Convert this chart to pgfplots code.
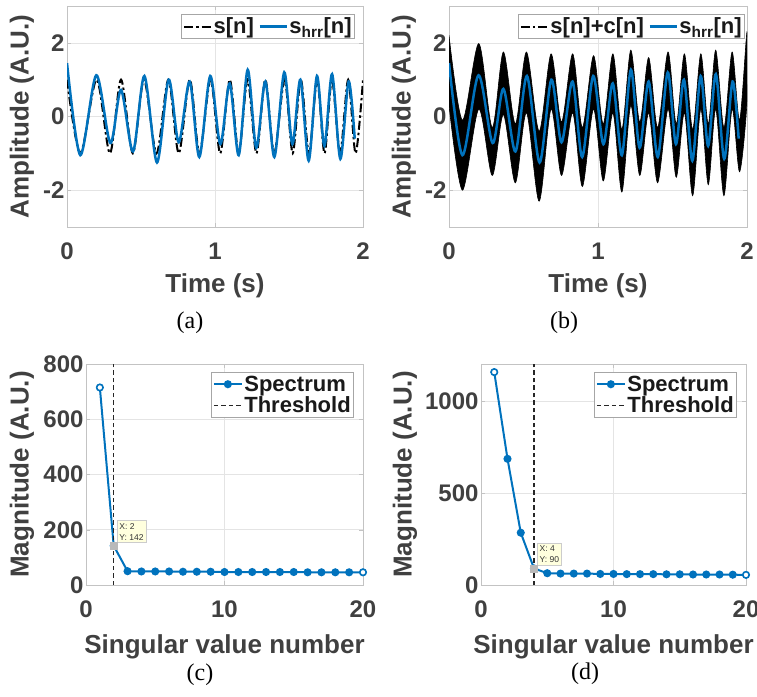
\documentclass[border=0pt]{standalone}
\usepackage{pgfplots}
\pgfplotsset{compat=1.18}
\usepackage{fontspec}
\setmainfont{Liberation Sans}
\newfontfamily\capfont{Liberation Serif}
\definecolor{mblue}{RGB}{0,114,189}
\definecolor{tickgray}{RGB}{64,64,64}
\definecolor{gridgray}{RGB}{228,228,228}
\definecolor{boxgray}{RGB}{195,195,195}
\definecolor{tipfill}{RGB}{255,255,222}
\pgfplotsset{
  myaxis/.style={
    scale only axis,
    axis line style={boxgray, line width=0.8pt},
    grid=major,
    major grid style={gridgray, line width=0.6pt},
    tick style={boxgray},
    major tick length=4pt,
    tick align=inside,
    tick label style={font=\fontsize{24}{26}\selectfont\bfseries, text=tickgray},
    label style={font=\fontsize{26}{28}\selectfont\bfseries, text=tickgray},
    /pgf/number format/assume math mode=true,
    /pgf/number format/1000 sep={},
    scaled ticks=false,
    xticklabel style={yshift=-12pt},
    yticklabel style={xshift=1pt},
    legend style={font=\fontsize{22}{24}\selectfont\bfseries, draw=gray!70, fill=white, inner sep=1.5pt, text=black!90, line width=0.6pt,
      nodes={inner xsep=1.5pt}},
    legend cell align=left,
  },
  timeaxis/.style={
    myaxis, xmin=0, xmax=2, ymin=-3, ymax=3, xtick={0,1,2}, ytick={-2,0,2}, yticklabels={-2,0,2},
    xlabel={Time (s)}, ylabel={Amplitude (A.U.)},
    xlabel style={at={(axis description cs:0.5,-0.267)}, anchor=center},
    ylabel style={at={(axis description cs:-0.152,0.5)}, anchor=center},
    legend columns=-1,
    legend style={/tikz/every even column/.append style={column sep=3pt}},
    legend image code/.code={\draw[##1] (0pt,0pt) -- (27pt,0pt);},
  },
  svaxis/.style={
    myaxis, xmin=0, xmax=20, ymin=0, xtick={0,10,20},
    xlabel={Singular value number}, ylabel={Magnitude (A.U.)},
    xlabel style={at={(axis description cs:0.5,-0.281)}, anchor=center},
    legend image code/.code={\draw[mark repeat=2,mark phase=2,##1] plot coordinates {(0pt,0pt)(14pt,0pt)(28pt,0pt)};},
  },
}
\begin{document}
\begin{tikzpicture}
\useasboundingbox (0,0) rectangle (757pt,696pt);
% ---------- (a)
\begin{axis}[timeaxis, width=296pt, height=221pt, at={(67pt,469pt)}, anchor=south west,
  legend style={at={(1,1)}, anchor=north east, xshift=-8pt, yshift=-8pt}]
\addplot[black, line width=2pt, smooth, dash pattern=on 9pt off 3pt on 2.5pt off 3pt] coordinates {
(0,1.0) (0.09,-1.0) (0.2,1.0) (0.29,-1.0) (0.365,1.0) (0.445,-1.0) (0.52,1.0) (0.605,-1.0) (0.685,1.0) (0.755,-1.0) (0.83,1.0) (0.895,-1.0) (0.97,1.0) (1.035,-1.0) (1.10,1.0) (1.16,-1.0) (1.22,1.0) (1.28,-1.0) (1.34,1.0) (1.40,-1.0) (1.47,1.0) (1.525,-1.0) (1.58,1.0) (1.635,-1.0) (1.69,1.0) (1.74,-1.0) (1.79,1.0) (1.845,-1.0) (1.90,1.0) (1.95,-1.0) (2.0,1.0)};
\addlegendentry{s[n]}
\addplot[mblue, line width=2.5pt, smooth] coordinates {
(0,1.45) (0.09,-1.05) (0.198,1.12) (0.293,-0.72) (0.365,0.72) (0.446,-0.95) (0.523,1.1) (0.608,-1.25) (0.687,1.0) (0.755,-0.7) (0.829,0.95) (0.894,-1.1) (0.968,1.1) (1.036,-0.75) (1.099,0.9) (1.160,-1.05) (1.221,1.27) (1.279,-0.85) (1.340,0.95) (1.401,-1.1) (1.468,1.2) (1.523,-0.75) (1.577,1.0) (1.633,-1.2) (1.689,1.1) (1.739,-0.8) (1.791,1.15) (1.847,-1.15) (1.903,0.95) (1.944,-0.6)};
\addlegendentry{s\textsubscript{hrr}[n]}
\end{axis}
% ---------- (b)
\begin{axis}[timeaxis, width=298pt, height=221pt, at={(449pt,469pt)}, anchor=south west,
  ylabel style={at={(axis description cs:-0.151,0.5)}},
  legend style={at={(1,1)}, anchor=north east, xshift=-2pt, yshift=-8pt}]
\addplot[draw=black, fill=black, line width=0.6pt, smooth, forget plot] coordinates {
(0,2.2) (0.09,-0.1) (0.2,1.98) (0.29,-0.3) (0.365,1.75) (0.445,-0.2) (0.52,1.75) (0.605,-0.4) (0.685,1.7) (0.755,-0.15) (0.83,1.7) (0.895,-0.3) (0.97,1.65) (1.035,-0.2) (1.10,1.7) (1.16,-0.35) (1.22,1.8) (1.28,-0.15) (1.34,1.6) (1.40,-0.3) (1.47,1.75) (1.525,-0.2) (1.58,1.7) (1.635,-0.35) (1.69,1.7) (1.74,-0.2) (1.79,1.8) (1.845,-0.3) (1.90,1.75) (1.95,-0.1) (2.0,2.3)
(2.0,0.4) (1.95,-1.5) (1.90,0.2) (1.845,-2.15) (1.79,0.2) (1.74,-1.85) (1.69,0.2) (1.635,-2.15) (1.58,0.1) (1.525,-1.65) (1.47,0.2) (1.40,-1.8) (1.34,0.1) (1.28,-1.6) (1.22,0.3) (1.16,-2.05) (1.10,0.1) (1.035,-1.75) (0.97,0.2) (0.895,-1.9) (0.83,0.1) (0.755,-1.6) (0.685,0.2) (0.605,-2.3) (0.52,0.1) (0.445,-1.8) (0.365,0.05) (0.29,-1.6) (0.2,0.2) (0.09,-2.0) (0,0.3)};
\addlegendimage{black, line width=2pt, dash pattern=on 9pt off 3pt on 2.5pt off 3pt}
\addlegendentry{s[n]+c[n]}
\addplot[mblue, line width=2.5pt, smooth] coordinates {
(0,1.45) (0.09,-1.05) (0.198,1.12) (0.293,-0.72) (0.365,0.75) (0.446,-0.95) (0.523,1.1) (0.608,-1.25) (0.687,1.0) (0.755,-0.7) (0.829,0.95) (0.894,-1.1) (0.968,1.1) (1.036,-0.75) (1.099,0.9) (1.160,-1.05) (1.221,1.27) (1.279,-0.85) (1.340,0.95) (1.401,-1.1) (1.468,1.2) (1.523,-0.75) (1.577,1.0) (1.633,-1.2) (1.689,1.1) (1.739,-0.8) (1.791,1.15) (1.847,-1.15) (1.903,0.95) (1.944,-0.6)};
\addlegendentry{s\textsubscript{hrr}[n]}
\end{axis}
% ---------- (c)
\begin{axis}[svaxis, width=277pt, height=221pt, at={(86pt,111pt)}, anchor=south west,
  ymax=800, ytick={0,200,400,600,800},
  ylabel style={at={(axis description cs:-0.231,0.5)}, anchor=center},
  legend style={at={(1,1)}, anchor=north east, xshift=-9pt, yshift=-8pt}]
\addplot[mblue, line width=2pt, mark=*, mark size=3pt] coordinates {
(1,715) (2,142) (3,50) (4,49) (5,49) (6,49) (7,48) (8,48) (9,48) (10,47) (11,47) (12,47) (13,47) (14,47) (15,47) (16,46) (17,46) (18,46) (19,46) (20,46)};
\addlegendentry{Spectrum}
\addplot[black!85, line width=1.5pt, dash pattern=on 4.5pt off 3pt] coordinates {(2,0) (2,800)};
\addlegendentry{Threshold}
\addplot[only marks, mblue, mark=*, mark size=3pt, mark options={fill=white, line width=1.2pt}, forget plot] coordinates {(1,715) (20,46)};
\addplot[only marks, mark=square*, mark size=3.5pt, color=gray!55, forget plot] coordinates {(2,142)};
\node[anchor=south west, fill=tipfill, draw=gray!40, font=\fontsize{8.5}{11}\selectfont, text=black!80, align=left, inner sep=2.5pt, xshift=3pt, yshift=3pt] at (axis cs:2,142) {X: 2\\Y: 142};
\end{axis}
% ---------- (d)
\begin{axis}[svaxis, width=265pt, height=221pt, at={(481pt,111pt)}, anchor=south west,
  ymax=1200, ytick={0,500,1000},
  ylabel style={at={(axis description cs:-0.287,0.5)}, anchor=center},
  legend style={at={(1,1)}, anchor=north east, xshift=-9pt, yshift=-8pt}]
\addplot[mblue, line width=2pt, mark=*, mark size=3pt] coordinates {
(1,1156) (2,685) (3,284) (4,90) (5,64) (6,62) (7,62) (8,62) (9,60) (10,60) (11,59) (12,59) (13,59) (14,58) (15,58) (16,57) (17,57) (18,57) (19,56) (20,55)};
\addlegendentry{Spectrum}
\addplot[black!85, line width=1.5pt, dash pattern=on 4.5pt off 3pt] coordinates {(4,0) (4,1200)};
\addlegendentry{Threshold}
\addplot[only marks, mblue, mark=*, mark size=3pt, mark options={fill=white, line width=1.2pt}, forget plot] coordinates {(1,1156) (20,55)};
\addplot[only marks, mark=square*, mark size=3.5pt, color=gray!55, forget plot] coordinates {(4,90)};
\node[anchor=south west, fill=tipfill, draw=gray!40, font=\fontsize{8.5}{11}\selectfont, text=black!80, align=left, inner sep=2.5pt, xshift=3pt, yshift=3pt] at (axis cs:4,90) {X: 4\\Y: 90};
\end{axis}
% captions
\node[font=\capfont\fontsize{24}{26}\selectfont] at (190pt,373pt) {(a)};
\node[font=\capfont\fontsize{24}{26}\selectfont] at (564pt,373pt) {(b)};
\node[font=\capfont\fontsize{24}{26}\selectfont] at (200pt,21pt) {(c)};
\node[font=\capfont\fontsize{24}{26}\selectfont] at (585pt,22pt) {(d)};
\end{tikzpicture}
\end{document}
